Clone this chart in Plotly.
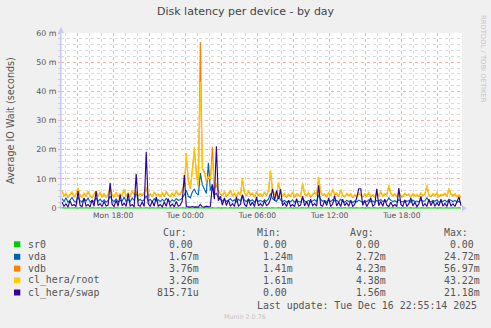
import plotly.graph_objects as go
import pandas as pd

# ---------------- data (values in milliseconds) ----------------
N_POINTS = 200
start_time = "2025-12-15 13:45"
times = pd.date_range(start_time, periods=N_POINTS, freq="10min")

sr0 = [0.0] * N_POINTS

vda = [3.2, 2.2, 3.5, 2.0, 2.7, 3.6, 2.4, 2.0, 3.8, 2.5,
       2.1, 3.2, 2.4, 3.4, 2.0, 2.6, 2.2, 3.5, 2.3, 3.0,
       2.1, 2.8, 2.0, 2.6, 4.0, 2.8, 2.2, 3.1, 2.0, 2.6,
       2.4, 3.8, 2.2, 2.9, 2.1, 3.4, 2.6, 5.5, 2.5, 3.0,
       2.3, 2.8, 4.2, 2.4, 3.0, 2.1, 3.2, 2.4, 2.8, 2.2,
       3.0, 2.3, 3.3, 2.5, 2.1, 2.8, 2.3, 3.2, 2.6, 2.8,
       3.5, 4.5, 6.0, 4.0, 3.5, 5.5, 6.5, 5.0, 4.5, 12.0,
       8.0, 6.5, 5.0, 15.5, 6.0, 8.0, 4.5, 5.0, 3.5, 3.0,
       2.4, 3.0, 2.2, 2.7, 3.2, 2.3, 2.8, 2.1, 3.0, 2.4,
       4.5, 2.7, 2.2, 3.0, 2.4, 2.8, 2.0, 2.9, 2.3, 2.6,
       2.1, 2.8, 2.3, 3.1, 5.0, 3.2, 2.6, 2.2, 4.0, 2.8,
       2.2, 2.6, 2.0, 2.5, 2.1, 2.8, 2.0, 2.5, 2.2, 2.0,
       3.5, 2.4, 2.1, 2.6, 2.0, 2.4, 2.8, 2.2, 4.5, 2.9,
       2.3, 2.6, 2.0, 2.7, 2.2, 2.8, 2.4, 2.6, 2.1, 3.0,
       2.3, 2.0, 2.6, 2.2, 2.5, 1.9, 2.4, 2.1, 2.7, 2.3,
       2.0, 2.5, 2.2, 2.8, 2.1, 2.4, 2.0, 2.6, 2.3, 2.9,
       2.2, 2.5, 2.3, 3.4, 2.6, 2.2, 2.5, 2.0, 2.8, 2.3,
       2.1, 2.6, 2.3, 2.5, 2.0, 2.7, 2.2, 2.4, 2.1, 2.8,
       2.3, 2.5, 3.5, 2.4, 2.1, 2.6, 2.3, 2.8, 2.0, 2.4,
       2.3, 2.7, 2.1, 3.0, 2.5, 2.2, 2.6, 2.0, 2.3, 1.67]

vdb = [5.7, 4.1, 4.9, 3.6, 4.5, 5.3, 3.8, 4.7, 6.7, 4.3,
       3.7, 4.9, 4.1, 5.5, 4.2, 3.5, 4.7, 5.7, 4.2, 5.1,
       3.8, 4.8, 3.6, 4.6, 6.9, 4.4, 3.9, 5.2, 4.0, 4.7,
       4.3, 6.2, 4.0, 5.0, 3.8, 5.9, 4.5, 5.5, 4.1, 4.8,
       4.3, 5.1, 7.0, 4.2, 4.7, 3.9, 5.3, 4.3, 4.6, 4.0,
       5.1, 4.1, 5.5, 4.4, 3.9, 4.9, 4.2, 5.7, 4.5, 4.7,
       6.2, 7.6, 17.5, 9.5, 6.6, 13.0, 20.0, 12.5, 7.6, 57.0,
       13.5, 12.5, 9.0, 10.5, 9.5, 21.0, 6.6, 8.0, 5.7, 4.7,
       4.3, 5.5, 4.0, 4.7, 5.9, 4.2, 4.9, 3.8, 5.3, 4.4,
       9.8, 5.1, 4.1, 5.7, 4.5, 4.9, 3.7, 5.4, 4.3, 4.7,
       4.0, 5.3, 4.2, 5.9, 12.4, 5.7, 4.7, 4.2, 8.6, 5.2,
       4.1, 4.9, 3.6, 4.6, 4.0, 5.3, 3.8, 4.7, 4.3, 3.9,
       8.2, 4.7, 4.2, 5.1, 3.8, 4.5, 5.3, 4.4, 10.2, 5.5,
       4.3, 4.7, 3.9, 5.2, 4.1, 6.3, 4.5, 4.9, 4.0, 6.1,
       4.4, 3.8, 4.8, 4.2, 4.7, 3.6, 4.4, 4.0, 5.0, 4.3,
       3.8, 4.7, 4.1, 5.1, 3.9, 4.4, 3.7, 4.9, 4.2, 5.5,
       4.1, 4.7, 4.4, 7.5, 4.9, 4.2, 4.7, 3.9, 5.3, 4.2,
       3.8, 4.9, 4.3, 4.6, 3.7, 4.8, 4.1, 4.5, 3.9, 5.0,
       4.2, 4.7, 7.5, 4.4, 3.9, 4.7, 4.2, 5.1, 3.8, 4.5,
       4.3, 4.9, 4.0, 6.5, 4.7, 4.2, 4.7, 3.8, 4.4, 3.76]

cl_hera_root = [6.0, 4.4, 5.2, 3.8, 4.8, 5.6, 4.0, 5.0, 7.0, 4.6,
                3.9, 5.2, 4.3, 5.8, 4.5, 3.7, 5.0, 6.0, 4.4, 5.4,
                4.0, 5.1, 3.8, 4.9, 7.2, 4.7, 4.1, 5.5, 4.2, 5.0,
                4.5, 6.5, 4.2, 5.3, 4.0, 6.2, 4.8, 5.8, 4.3, 5.1,
                4.6, 5.4, 7.3, 4.4, 5.0, 4.1, 5.6, 4.5, 4.9, 4.2,
                5.4, 4.3, 5.8, 4.7, 4.1, 5.2, 4.4, 6.0, 4.8, 5.0,
                6.5, 8.0, 18.9, 9.0, 7.0, 12.0, 21.0, 11.0, 8.0, 43.2,
                14.0, 12.0, 9.5, 11.0, 10.0, 16.0, 7.0, 8.5, 6.0, 5.0,
                4.5, 5.8, 4.2, 5.0, 6.2, 4.4, 5.2, 4.0, 5.6, 4.6,
                10.3, 5.4, 4.3, 6.0, 4.8, 5.2, 3.9, 5.7, 4.6, 5.0,
                4.2, 5.6, 4.4, 6.2, 13.0, 6.0, 5.0, 4.4, 9.0, 5.5,
                4.3, 5.2, 3.8, 4.9, 4.2, 5.6, 4.0, 5.0, 4.5, 4.1,
                8.6, 5.0, 4.4, 5.4, 4.0, 4.8, 5.6, 4.6, 10.7, 5.8,
                4.5, 5.0, 4.1, 5.5, 4.3, 6.6, 4.8, 5.2, 4.2, 6.4,
                4.6, 4.0, 5.1, 4.4, 5.0, 3.8, 4.7, 4.2, 5.3, 4.5,
                4.0, 5.0, 4.3, 5.4, 4.1, 4.6, 3.9, 5.2, 4.4, 5.8,
                4.3, 5.0, 4.6, 7.9, 5.2, 4.4, 5.0, 4.1, 5.6, 4.4,
                4.0, 5.2, 4.5, 4.9, 3.9, 5.1, 4.3, 4.8, 4.1, 5.3,
                4.4, 5.0, 7.9, 4.6, 4.1, 5.0, 4.4, 5.4, 4.0, 4.8,
                4.5, 5.2, 4.2, 6.8, 5.0, 4.4, 5.0, 4.0, 4.6, 3.26]

cl_hera_swap = [2.0, 0.6, 1.4, 0.4, 2.5, 0.8, 1.2, 0.5, 5.8, 0.9,
                0.5, 3.5, 0.7, 1.2, 0.4, 2.8, 0.6, 5.8, 0.8, 1.5,
                0.5, 2.2, 0.7, 1.0, 8.6, 1.2, 0.5, 2.6, 0.6, 4.5,
                0.8, 1.6, 0.5, 5.0, 0.7, 1.2, 0.4, 11.7, 1.0, 0.6,
                2.0, 0.5, 19.3, 1.5, 0.5, 2.4, 0.6, 3.8, 0.6, 1.2,
                0.4, 2.0, 0.6, 3.2, 0.5, 1.4, 0.4, 2.2, 0.6, 1.0,
                2.5, 11.3, 0.5, 0.4, 0.3, 0.5, 0.3, 0.4, 0.3, 1.2,
                0.4, 0.3, 0.6, 0.4, 0.5, 8.0, 3.0, 21.2, 2.5, 4.0,
                1.0, 3.5, 0.8, 2.8, 0.6, 1.5, 0.5, 3.8, 0.7, 1.2,
                4.5, 1.2, 0.5, 3.2, 0.8, 2.0, 0.5, 3.8, 0.7, 1.5,
                0.6, 2.5, 0.8, 1.4, 3.0, 6.6, 2.5, 6.0, 3.0, 6.4,
                0.8, 1.8, 0.5, 2.6, 0.6, 1.2, 0.5, 3.2, 0.7, 1.0,
                4.0, 0.7, 2.2, 0.5, 3.0, 0.8, 1.5, 0.6, 7.8, 1.0,
                0.6, 2.5, 0.8, 3.5, 0.5, 1.4, 4.2, 0.7, 2.0, 0.5,
                3.0, 0.8, 1.8, 0.6, 2.6, 0.5, 1.2, 3.5, 6.6, 6.6,
                0.9, 2.5, 0.5, 1.8, 3.5, 0.6, 1.2, 6.6, 0.8, 2.2,
                0.6, 3.0, 1.0, 0.5, 2.0, 0.6, 1.2, 0.5, 6.8, 1.2,
                0.6, 2.8, 0.5, 1.5, 3.4, 0.7, 2.0, 0.5, 1.4, 4.0,
                0.6, 1.5, 0.5, 3.0, 0.8, 2.4, 0.6, 1.8, 0.7, 3.0,
                0.6, 1.6, 0.5, 2.8, 0.7, 1.4, 0.5, 2.2, 3.8, 0.82]

series_names = ["sr0", "vda", "vdb", "cl_hera/root", "cl_hera/swap"]
series_values = [sr0, vda, vdb, cl_hera_root, cl_hera_swap]
series_colors = ["#00CC00", "#0066B3", "#FF8000", "#FFCC00", "#330099"]

cur_vals = ["0.00", "1.67m", "3.76m", "3.26m", "815.71u"]
min_vals = ["0.00", "1.24m", "1.41m", "1.61m", "0.00"]
avg_vals = ["0.00", "2.72m", "4.23m", "4.38m", "1.56m"]
max_vals = ["0.00", "24.72m", "56.97m", "43.22m", "21.18m"]

y_tick_vals = [0, 10, 20, 30, 40, 50, 60]
y_tick_text = ["0", "10 m", "20 m", "30 m", "40 m", "50 m", "60 m"]

x_tick_vals = pd.date_range("2025-12-15 15:00", "2025-12-16 21:00", freq="3h")
x_tick_text = ["", "Mon 18:00", "", "Tue 00:00", "", "Tue 06:00", "",
               "Tue 12:00", "", "Tue 18:00", ""]

title_text = "Disk latency per device - by day"
y_title = "Average IO Wait (seconds)"
last_update = "Last update: Tue Dec 16 22:55:14 2025"
watermark = "RRDTOOL / TOBI OETIKER"
version_text = "Munin 2.0.76"

# ---------------- layout geometry ----------------
W, H = 491, 328
L, R, T, B = 61, 462, 33, 209

def px(x):
    return (x - L) / (R - L)

def py(y):
    return (B - y) / (B - T)

NB = "\u00a0"
MONO = "DejaVu Sans Mono"
SANS = "DejaVu Sans"
TXT = "#555555"

fig = go.Figure()
for name, vals, col in zip(series_names, series_values, series_colors):
    fig.add_trace(go.Scatter(x=times, y=vals, name=name, mode="lines",
                             line=dict(color=col, width=1.15), hoverinfo="skip"))

annotations = []
shapes = []

annotations.append(dict(text=title_text, x=px(245.5), y=py(12), xref="paper", yref="paper",
                        showarrow=False, xanchor="center", yanchor="middle",
                        font=dict(family=SANS, size=11, color="#444444")))
annotations.append(dict(text=y_title, x=px(10), y=py(121), xref="paper", yref="paper",
                        showarrow=False, textangle=-90, xanchor="center", yanchor="middle",
                        font=dict(family=SANS, size=9.6, color=TXT)))
annotations.append(dict(text=watermark, x=px(483), y=py(59), xref="paper", yref="paper",
                        showarrow=False, textangle=90, xanchor="center", yanchor="middle",
                        font=dict(family=SANS, size=6.8, color="#C4C4C4")))

def fmt(v):
    unit = v[-1] if v[-1].isalpha() else ""
    num = v[:-1] if unit else v
    return (num.rjust(6) + (unit if unit else " ")).replace(" ", NB)

row_y = [244.3, 256.8, 268.6, 280.3, 292.5]
col_x = [155.3, 249.1, 342.4, 435.7]
headers = ["Cur:", "Min:", "Avg:", "Max:"]
for hx, h in zip(col_x, headers):
    annotations.append(dict(text=h, x=px(hx + 6.0), y=py(232.3), xref="paper", yref="paper",
                            showarrow=False, xanchor="left", yanchor="middle",
                            font=dict(family=MONO, size=9.9, color=TXT)))
for k, (name, col) in enumerate(zip(series_names, series_colors)):
    yy = row_y[k]
    shapes.append(dict(type="rect", xref="paper", yref="paper",
                       x0=px(14), x1=px(20.3), y0=py(yy - 3), y1=py(yy + 3),
                       fillcolor=col, line=dict(width=0)))
    annotations.append(dict(text=name, x=px(26), y=py(yy), xref="paper", yref="paper",
                            showarrow=False, xanchor="left", yanchor="middle",
                            font=dict(family=MONO, size=9.9, color=TXT)))
    for cx, vals in zip(col_x, [cur_vals, min_vals, avg_vals, max_vals]):
        annotations.append(dict(text=fmt(vals[k]), x=px(cx), y=py(yy), xref="paper", yref="paper",
                                showarrow=False, xanchor="left", yanchor="middle",
                                font=dict(family=MONO, size=9.9, color=TXT)))

annotations.append(dict(text=last_update.replace(" ", NB), x=px(255), y=py(305), xref="paper", yref="paper",
                        showarrow=False, xanchor="left", yanchor="middle",
                        font=dict(family=MONO, size=9.9, color=TXT)))
annotations.append(dict(text=version_text, x=px(245), y=py(316.5), xref="paper", yref="paper",
                        showarrow=False, xanchor="center", yanchor="middle",
                        font=dict(family=SANS, size=6.4, color="#C4C4C4")))

AX = "#C8C8F2"
shapes.append(dict(type="line", xref="paper", yref="paper", x0=px(61), x1=px(61),
                   y0=py(209), y1=py(29), line=dict(color=AX, width=1)))
shapes.append(dict(type="path", xref="paper", yref="paper",
                   path=f"M {px(58)} {py(33)} L {px(64)} {py(33)} L {px(61)} {py(27)} Z",
                   fillcolor=AX, line=dict(width=0)))
shapes.append(dict(type="line", xref="paper", yref="paper", x0=px(462), x1=px(464),
                   y0=py(208.3), y1=py(208.3), line=dict(color=AX, width=1)))
shapes.append(dict(type="path", xref="paper", yref="paper",
                   path=f"M {px(462)} {py(205.3)} L {px(462)} {py(211.3)} L {px(467)} {py(208.3)} Z",
                   fillcolor=AX, line=dict(width=0)))

MAJ = "#F4AEAE"
MIN = "#DADADA"
fig.update_layout(
    width=W, height=H,
    margin=dict(l=L, r=W - R, t=T, b=H - B, pad=0),
    paper_bgcolor="#F0F0F0", plot_bgcolor="#FFFFFF",
    showlegend=False,
    font=dict(family=SANS, color=TXT),
    annotations=annotations, shapes=shapes,
    xaxis=dict(type="date", range=["2025-12-15 13:40", "2025-12-16 23:00"],
               tickmode="array", tickvals=x_tick_vals, ticktext=x_tick_text,
               showgrid=True, gridcolor=MAJ, griddash="dot", gridwidth=1,
               minor=dict(tickmode="linear", tick0="2025-12-15 14:00", dtick=3600000,
                          showgrid=True, gridcolor=MIN, griddash="dot", gridwidth=1),
               zeroline=False, showline=False, ticks="",
               tickfont=dict(family=SANS, size=7.6, color=TXT), fixedrange=True),
    yaxis=dict(range=[-0.35, 60.05], tickmode="array", tickvals=y_tick_vals, ticktext=y_tick_text,
               showgrid=True, gridcolor=MAJ, griddash="dot", gridwidth=1,
               minor=dict(tickmode="linear", tick0=0, dtick=2, showgrid=True,
                          gridcolor=MIN, griddash="dot", gridwidth=1,
                          ticks="outside", ticklen=2, tickcolor="#D0D0D0"),
               zeroline=False, showline=True, linecolor=AX, linewidth=1,
               ticks="outside", ticklen=2, tickcolor=MAJ,
               tickfont=dict(family=SANS, size=7.9, color=TXT), fixedrange=True),
)

fig.write_html("out.html", include_plotlyjs=True, config={"displayModeBar": False})
